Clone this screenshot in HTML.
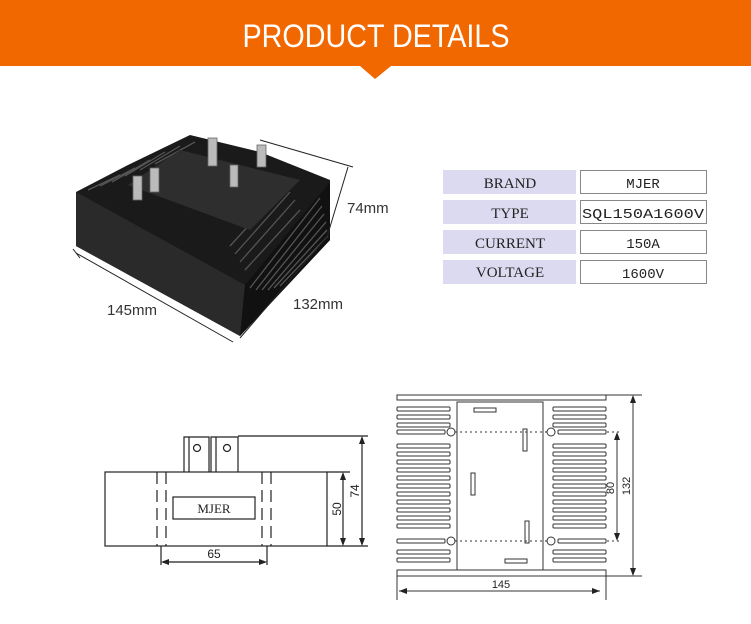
<!DOCTYPE html>
<html><head><style>
html,body{margin:0;padding:0;background:#fff;}
svg{display:block;}
</style></head><body>
<svg width="751" height="624" viewBox="0 0 751 624" xmlns="http://www.w3.org/2000/svg" font-family="Liberation Sans, sans-serif">
<rect x="0" y="0" width="751" height="66" fill="#f26800"/>
<polygon points="360,66 391,66 375,79" fill="#f26800"/>
<text x="376" y="47" text-anchor="middle" fill="#fff" font-size="32" textLength="267" lengthAdjust="spacingAndGlyphs">PRODUCT  DETAILS</text>

<!-- photo -->
<g>
<polygon points="76,192 128,165 190,135 260,152 330,180 330,240 240,336 76,246" fill="#1a1a1a"/>
<polygon points="76,192 245,285 240,336 76,246" fill="#2a2a2a"/>
<polygon points="245,285 330,182 330,240 240,336" fill="#111"/>
<g stroke="#555" stroke-width="1.3">
<line x1="250" y1="288" x2="320" y2="198"/><line x1="256" y1="290" x2="322" y2="206"/><line x1="262" y1="290" x2="324" y2="214"/><line x1="268" y1="290" x2="326" y2="222"/><line x1="274" y1="288" x2="327" y2="230"/><line x1="280" y1="286" x2="328" y2="236"/><line x1="245" y1="270" x2="300" y2="210"/><line x1="240" y1="262" x2="295" y2="200"/><line x1="235" y1="254" x2="290" y2="192"/><line x1="230" y1="246" x2="285" y2="186"/>
<line x1="88" y1="190" x2="120" y2="175"/><line x1="100" y1="186" x2="135" y2="168"/><line x1="112" y1="182" x2="150" y2="160"/><line x1="125" y1="176" x2="165" y2="152"/><line x1="140" y1="170" x2="180" y2="146"/><line x1="155" y1="164" x2="195" y2="142"/>
</g>
<polygon points="128,185 250,230 300,180 180,150" fill="#2e2e2e"/>
<g fill="#bbb" stroke="#666" stroke-width="0.8">
<rect x="133" y="176" width="9" height="24"/><rect x="150" y="168" width="9" height="24"/>
<rect x="208" y="138" width="9" height="28"/><rect x="230" y="165" width="8" height="22"/>
<rect x="257" y="145" width="9" height="22"/>
</g>
<g stroke="#222" stroke-width="1" fill="none">
<line x1="76" y1="253" x2="233" y2="342"/><line x1="73" y1="249" x2="80" y2="258"/>
<line x1="240" y1="338" x2="327" y2="237"/>
<line x1="260" y1="140" x2="353" y2="167"/><line x1="348" y1="167" x2="327" y2="237"/>
</g>
<text x="347" y="213" font-size="15" fill="#333">74mm</text>
<text x="293" y="309" font-size="15" fill="#333">132mm</text>
<text x="107" y="315" font-size="15" fill="#333">145mm</text>
</g>

<!-- table -->
<g font-family="Liberation Serif, serif" font-size="15" fill="#222" text-anchor="middle">
<rect x="443" y="170" width="133" height="24" fill="#dcdaf0"/>
<rect x="443" y="200" width="133" height="24" fill="#dcdaf0"/>
<rect x="443" y="230" width="133" height="24" fill="#dcdaf0"/>
<rect x="443" y="260" width="133" height="24" fill="#dcdaf0"/>
<text x="510" y="188">BRAND</text><text x="510" y="218">TYPE</text><text x="510" y="248">CURRENT</text><text x="510" y="277">VOLTAGE</text>
</g>
<g fill="#fff" stroke="#888" stroke-width="1">
<rect x="580.5" y="170.5" width="126" height="23"/><rect x="580.5" y="200.5" width="126" height="23"/>
<rect x="580.5" y="230.5" width="126" height="23"/><rect x="580.5" y="260.5" width="126" height="23"/>
</g>
<g font-family="Liberation Mono, monospace" font-size="14" fill="#222" text-anchor="middle">
<text x="643" y="188">MJER</text><text x="643" y="218" textLength="122" lengthAdjust="spacingAndGlyphs">SQL150A1600V</text><text x="643" y="248">150A</text><text x="643" y="278">1600V</text>
</g>

<!-- side view -->
<g stroke="#222" stroke-width="1.2" fill="none">
<rect x="105" y="472" width="222" height="74"/>
<path d="M184,472 V437 h25 v35 M189,472 V437 M211,472 V437 h27 v35 M216,472 V437 M238,472 V437"/>
<circle cx="197" cy="448" r="3.5"/><circle cx="227" cy="448" r="3.5"/>
<rect x="173" y="497" width="82" height="22"/>
<g stroke-dasharray="12,6"><line x1="157" y1="472" x2="157" y2="546"/><line x1="166" y1="472" x2="166" y2="546"/><line x1="262" y1="472" x2="262" y2="546"/><line x1="271" y1="472" x2="271" y2="546"/></g>
<line x1="238" y1="436" x2="368" y2="436"/><line x1="327" y1="546" x2="368" y2="546"/><line x1="327" y1="472" x2="350" y2="472"/>
<line x1="343" y1="474" x2="343" y2="544"/><line x1="362" y1="438" x2="362" y2="544"/>
<line x1="161" y1="546" x2="161" y2="565"/><line x1="267" y1="546" x2="267" y2="565"/><line x1="163" y1="562" x2="265" y2="562"/>
</g>
<g fill="#222"><polygon points="343,472 340,480 346,480"/><polygon points="343,546 340,538 346,538"/><polygon points="362,436 359,444 365,444"/><polygon points="362,546 359,538 365,538"/><polygon points="161,562 169,559 169,565"/><polygon points="267,562 259,559 259,565"/></g>
<text x="214" y="513" text-anchor="middle" font-family="Liberation Serif, serif" font-size="13" fill="#222">MJER</text>
<text x="214" y="558" text-anchor="middle" font-size="12" fill="#222">65</text>
<text transform="translate(341,509) rotate(-90)" text-anchor="middle" font-size="12" fill="#222">50</text>
<text transform="translate(359,491) rotate(-90)" text-anchor="middle" font-size="12" fill="#222">74</text>

<!-- top view -->
<g stroke="#333" stroke-width="1" fill="none">
<rect x="397" y="395" width="209" height="5"/>
<rect x="397" y="570" width="209" height="6"/>
<rect x="457" y="402" width="86" height="168"/>
<g>
<rect x="397" y="407" width="53" height="4" rx="1"/><rect x="397" y="415" width="53" height="4" rx="1"/><rect x="397" y="423" width="53" height="4" rx="1"/><rect x="397" y="430" width="48" height="4" rx="1"/><rect x="397" y="444" width="53" height="4" rx="1"/><rect x="397" y="452" width="53" height="4" rx="1"/><rect x="397" y="460" width="53" height="4" rx="1"/><rect x="397" y="468" width="53" height="4" rx="1"/><rect x="397" y="476" width="53" height="4" rx="1"/><rect x="397" y="484" width="53" height="4" rx="1"/><rect x="397" y="492" width="53" height="4" rx="1"/><rect x="397" y="500" width="53" height="4" rx="1"/><rect x="397" y="508" width="53" height="4" rx="1"/><rect x="397" y="516" width="53" height="4" rx="1"/><rect x="397" y="524" width="53" height="4" rx="1"/><rect x="397" y="539" width="48" height="4" rx="1"/><rect x="397" y="550" width="53" height="4" rx="1"/><rect x="397" y="558" width="53" height="4" rx="1"/>
</g>
<g>
<rect x="553" y="407" width="53" height="4" rx="1"/><rect x="553" y="415" width="53" height="4" rx="1"/><rect x="553" y="423" width="53" height="4" rx="1"/><rect x="558" y="430" width="48" height="4" rx="1"/><rect x="553" y="444" width="53" height="4" rx="1"/><rect x="553" y="452" width="53" height="4" rx="1"/><rect x="553" y="460" width="53" height="4" rx="1"/><rect x="553" y="468" width="53" height="4" rx="1"/><rect x="553" y="476" width="53" height="4" rx="1"/><rect x="553" y="484" width="53" height="4" rx="1"/><rect x="553" y="492" width="53" height="4" rx="1"/><rect x="553" y="500" width="53" height="4" rx="1"/><rect x="553" y="508" width="53" height="4" rx="1"/><rect x="553" y="516" width="53" height="4" rx="1"/><rect x="553" y="524" width="53" height="4" rx="1"/><rect x="558" y="539" width="48" height="4" rx="1"/><rect x="553" y="550" width="53" height="4" rx="1"/><rect x="553" y="558" width="53" height="4" rx="1"/>
</g>
<circle cx="451" cy="432" r="4"/><circle cx="551" cy="432" r="4"/><circle cx="451" cy="541" r="4"/><circle cx="551" cy="541" r="4"/>
<rect x="474" y="408" width="22" height="4"/><rect x="523" y="429" width="4" height="22"/><rect x="471" y="473" width="4" height="22"/><rect x="525" y="521" width="4" height="22"/><rect x="505" y="559" width="22" height="4"/>
<g stroke-dasharray="2,3"><line x1="455" y1="432" x2="547" y2="432"/><line x1="607" y1="432" x2="622" y2="432"/><line x1="455" y1="541" x2="547" y2="541"/><line x1="607" y1="541" x2="622" y2="541"/></g>
<line x1="606" y1="395" x2="642" y2="395"/><line x1="397" y1="576" x2="642" y2="576"/>
<line x1="633" y1="397" x2="633" y2="574"/><line x1="617" y1="434" x2="617" y2="539"/>
<line x1="397" y1="576" x2="397" y2="600"/><line x1="606" y1="576" x2="606" y2="600"/><line x1="399" y1="591" x2="600" y2="591"/>
</g>
<g fill="#222"><polygon points="633,395 630,403 636,403"/><polygon points="633,576 630,568 636,568"/><polygon points="617,432 614,440 620,440"/><polygon points="617,541 614,533 620,533"/><polygon points="399,591 407,588 407,594"/><polygon points="600,591 592,588 592,594"/></g>
<text x="501" y="588" text-anchor="middle" font-size="11" fill="#222">145</text>
<text transform="translate(614,488) rotate(-90)" text-anchor="middle" font-size="11" fill="#222">80</text>
<text transform="translate(630,486) rotate(-90)" text-anchor="middle" font-size="11" fill="#222">132</text>
</svg>
</body></html>
